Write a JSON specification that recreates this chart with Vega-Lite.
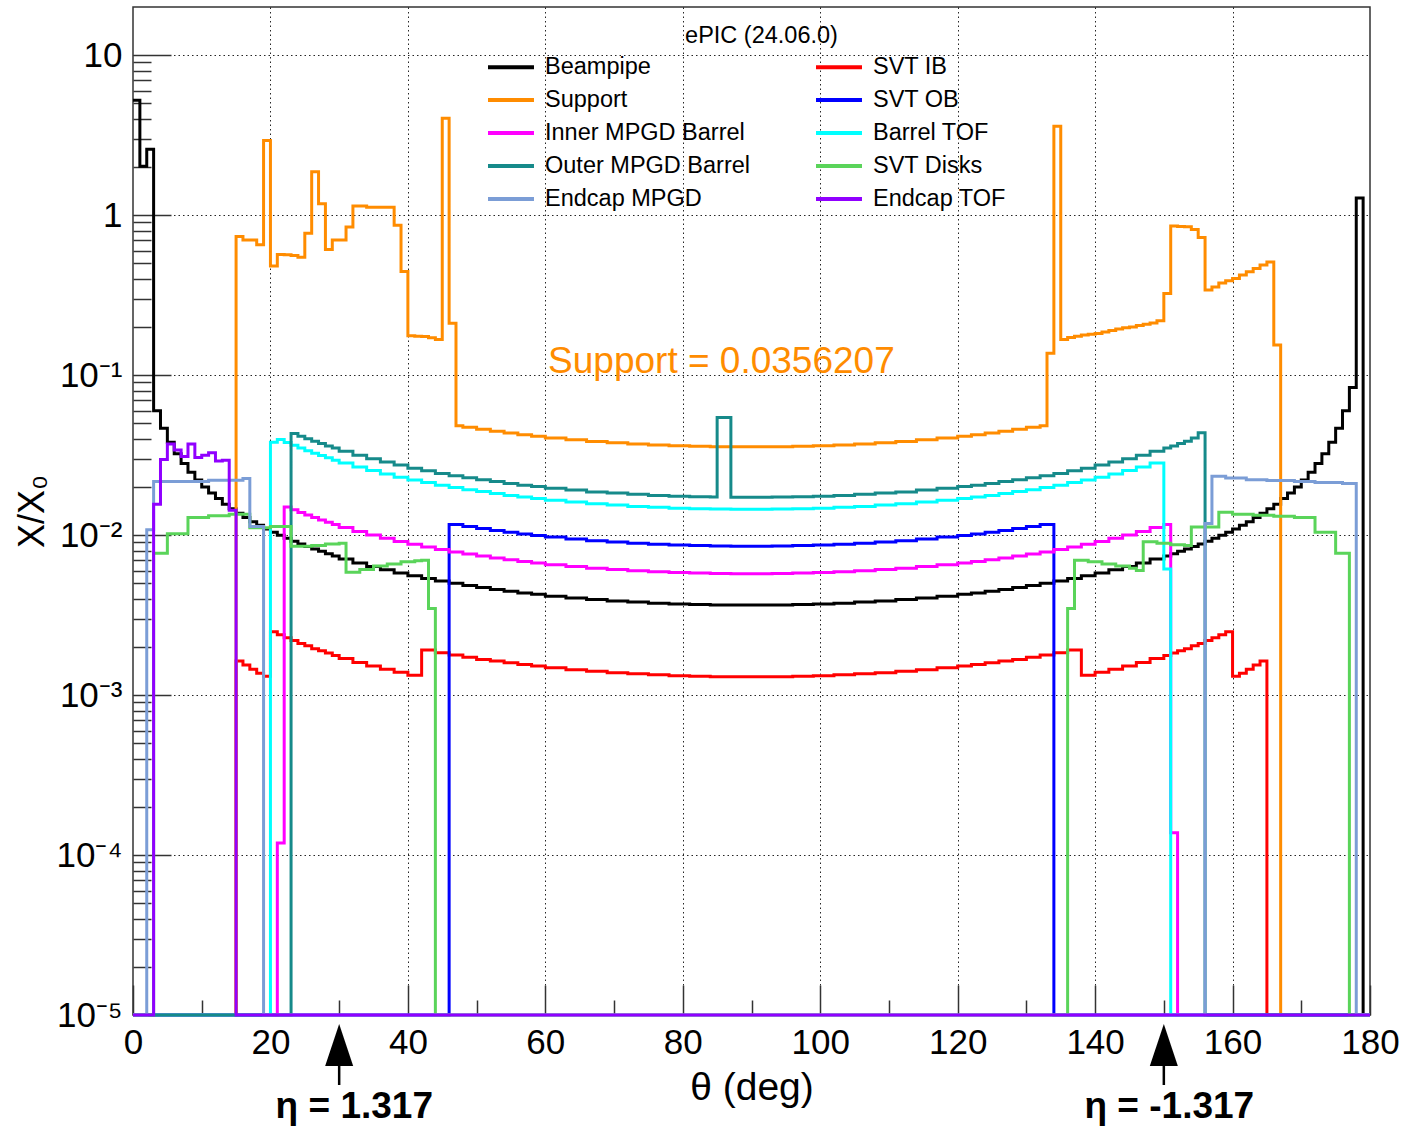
{
"$schema": "https://vega.github.io/schema/vega-lite/v6.json",
"width": 1237, "height": 1008,
"autosize": "none",
"padding": {"left": 133, "top": 7, "right": 39, "bottom": 114},
"background": "white",
"title": {"text": "ePIC (24.06.0)", "anchor": "middle", "fontSize": 23.5, "fontWeight": "normal", "font": "Liberation Sans", "color": "#000", "baseline": "middle", "offset": 0, "dx": 10, "dy": 52},
"config": {
  "view": {"stroke": "#333", "strokeWidth": 1.5},
  "font": "Liberation Sans",
  "axis": {"labelFont": "Liberation Sans", "titleFont": "Liberation Sans", "labelColor": "#000", "titleColor": "#000"},
  "legend": {"labelFont": "Liberation Sans", "titleFont": "Liberation Sans"}
},
"datasets": {
"beampipe": [{"t":0,"v":5.23},{"t":1,"v":2.02},{"t":2,"v":2.58},{"t":3,"v":0.0598},{"t":4,"v":0.0465},{"t":5,"v":0.0381},{"t":6,"v":0.0322},{"t":7,"v":0.028},{"t":8,"v":0.0247},{"t":9,"v":0.0221},{"t":10,"v":0.02},{"t":11,"v":0.0183},{"t":12,"v":0.0169},{"t":13,"v":0.0156},{"t":14,"v":0.0146},{"t":15,"v":0.0137},{"t":16,"v":0.0129},{"t":17,"v":0.0121},{"t":18,"v":0.0115},{"t":19,"v":0.0109},{"t":20,"v":0.0104},{"t":21,"v":0.00996},{"t":22,"v":0.00954},{"t":23,"v":0.00915},{"t":24,"v":0.0088},{"t":25,"v":0.00848},{"t":26,"v":0.00818},{"t":27,"v":0.00791},{"t":28,"v":0.00765},{"t":29,"v":0.00741},{"t":30,"v":0.00709},{"t":32,"v":0.0067},{"t":34,"v":0.00636},{"t":36,"v":0.00607},{"t":38,"v":0.0058},{"t":40,"v":0.00556},{"t":42,"v":0.00535},{"t":44,"v":0.00516},{"t":46,"v":0.00499},{"t":48,"v":0.00484},{"t":50,"v":0.0047},{"t":52,"v":0.00457},{"t":54,"v":0.00446},{"t":56,"v":0.00435},{"t":58,"v":0.00426},{"t":60,"v":0.00415},{"t":63,"v":0.00404},{"t":66,"v":0.00395},{"t":69,"v":0.00387},{"t":72,"v":0.00381},{"t":75,"v":0.00375},{"t":78,"v":0.00371},{"t":81,"v":0.00368},{"t":84,"v":0.00366},{"t":87,"v":0.00365},{"t":90,"v":0.00365},{"t":93,"v":0.00366},{"t":96,"v":0.00368},{"t":99,"v":0.00371},{"t":102,"v":0.00375},{"t":105,"v":0.00381},{"t":108,"v":0.00387},{"t":111,"v":0.00395},{"t":114,"v":0.00404},{"t":117,"v":0.00415},{"t":120,"v":0.00426},{"t":122,"v":0.00435},{"t":124,"v":0.00446},{"t":126,"v":0.00457},{"t":128,"v":0.0047},{"t":130,"v":0.00484},{"t":132,"v":0.00499},{"t":134,"v":0.00516},{"t":136,"v":0.00535},{"t":138,"v":0.00556},{"t":140,"v":0.0058},{"t":142,"v":0.00607},{"t":144,"v":0.00636},{"t":146,"v":0.0067},{"t":148,"v":0.00709},{"t":150,"v":0.00741},{"t":151,"v":0.00765},{"t":152,"v":0.00791},{"t":153,"v":0.00818},{"t":154,"v":0.00848},{"t":155,"v":0.0088},{"t":156,"v":0.00915},{"t":157,"v":0.00954},{"t":158,"v":0.00996},{"t":159,"v":0.0104},{"t":160,"v":0.0109},{"t":161,"v":0.0115},{"t":162,"v":0.0121},{"t":163,"v":0.0129},{"t":164,"v":0.0137},{"t":165,"v":0.0146},{"t":166,"v":0.0156},{"t":167,"v":0.0169},{"t":168,"v":0.0183},{"t":169,"v":0.02},{"t":170,"v":0.0221},{"t":171,"v":0.0247},{"t":172,"v":0.028},{"t":173,"v":0.0322},{"t":174,"v":0.0381},{"t":175,"v":0.0465},{"t":176,"v":0.0598},{"t":177,"v":0.0837},{"t":178,"v":1.28},{"t":179,"v":0.00001},{"t":180,"v":0.00001}],
"svtib": [{"t":0,"v":0.00001},{"t":15,"v":0.00163},{"t":16,"v":0.00154},{"t":17,"v":0.00145},{"t":18,"v":0.00137},{"t":19,"v":0.00131},{"t":20,"v":0.00249},{"t":21,"v":0.00238},{"t":22,"v":0.00228},{"t":23,"v":0.00219},{"t":24,"v":0.0021},{"t":25,"v":0.00203},{"t":26,"v":0.00195},{"t":27,"v":0.00189},{"t":28,"v":0.00183},{"t":29,"v":0.00177},{"t":30,"v":0.00169},{"t":32,"v":0.0016},{"t":34,"v":0.00152},{"t":36,"v":0.00145},{"t":38,"v":0.00139},{"t":40,"v":0.00133},{"t":42,"v":0.00191},{"t":44,"v":0.00184},{"t":46,"v":0.00178},{"t":48,"v":0.00172},{"t":50,"v":0.00167},{"t":52,"v":0.00163},{"t":54,"v":0.00159},{"t":56,"v":0.00155},{"t":58,"v":0.00152},{"t":60,"v":0.00148},{"t":63,"v":0.00144},{"t":66,"v":0.00141},{"t":69,"v":0.00138},{"t":72,"v":0.00136},{"t":75,"v":0.00134},{"t":78,"v":0.00132},{"t":81,"v":0.00131},{"t":84,"v":0.0013},{"t":87,"v":0.0013},{"t":90,"v":0.0013},{"t":93,"v":0.0013},{"t":96,"v":0.00131},{"t":99,"v":0.00132},{"t":102,"v":0.00134},{"t":105,"v":0.00136},{"t":108,"v":0.00138},{"t":111,"v":0.00141},{"t":114,"v":0.00144},{"t":117,"v":0.00148},{"t":120,"v":0.00152},{"t":122,"v":0.00155},{"t":124,"v":0.00159},{"t":126,"v":0.00163},{"t":128,"v":0.00167},{"t":130,"v":0.00172},{"t":132,"v":0.00178},{"t":134,"v":0.00184},{"t":136,"v":0.00191},{"t":138,"v":0.00133},{"t":140,"v":0.00139},{"t":142,"v":0.00145},{"t":144,"v":0.00152},{"t":146,"v":0.0016},{"t":148,"v":0.00169},{"t":150,"v":0.00177},{"t":151,"v":0.00183},{"t":152,"v":0.00189},{"t":153,"v":0.00195},{"t":154,"v":0.00203},{"t":155,"v":0.0021},{"t":156,"v":0.00219},{"t":157,"v":0.00228},{"t":158,"v":0.00238},{"t":159,"v":0.00249},{"t":160,"v":0.00131},{"t":161,"v":0.00137},{"t":162,"v":0.00145},{"t":163,"v":0.00154},{"t":164,"v":0.00163},{"t":165,"v":0.00001},{"t":180,"v":0.00001}],
"support": [{"t":0,"v":0.00001},{"t":15,"v":0.735},{"t":16,"v":0.698},{"t":18,"v":0.653},{"t":19,"v":2.93},{"t":20,"v":0.48},{"t":21,"v":0.568},{"t":22,"v":0.565},{"t":23,"v":0.56},{"t":24,"v":0.546},{"t":25,"v":0.77},{"t":26,"v":1.87},{"t":27,"v":1.18},{"t":28,"v":0.61},{"t":29,"v":0.698},{"t":31,"v":0.844},{"t":32,"v":1.14},{"t":34,"v":1.12},{"t":38,"v":0.866},{"t":39,"v":0.444},{"t":40,"v":0.176},{"t":41,"v":0.175},{"t":42,"v":0.174},{"t":43,"v":0.171},{"t":44,"v":0.167},{"t":45,"v":4.04},{"t":46,"v":0.211},{"t":47,"v":0.0483},{"t":48,"v":0.0472},{"t":50,"v":0.0458},{"t":52,"v":0.0446},{"t":54,"v":0.0435},{"t":56,"v":0.0424},{"t":58,"v":0.0415},{"t":60,"v":0.0405},{"t":63,"v":0.0394},{"t":66,"v":0.0385},{"t":69,"v":0.0378},{"t":72,"v":0.0371},{"t":75,"v":0.0366},{"t":78,"v":0.0362},{"t":81,"v":0.0359},{"t":84,"v":0.0357},{"t":87,"v":0.0356},{"t":90,"v":0.0356},{"t":93,"v":0.0357},{"t":96,"v":0.0359},{"t":99,"v":0.0362},{"t":102,"v":0.0366},{"t":105,"v":0.0371},{"t":108,"v":0.0378},{"t":111,"v":0.0385},{"t":114,"v":0.0394},{"t":117,"v":0.0405},{"t":120,"v":0.0415},{"t":122,"v":0.0424},{"t":124,"v":0.0435},{"t":126,"v":0.0446},{"t":128,"v":0.0458},{"t":130,"v":0.0472},{"t":132,"v":0.0483},{"t":133,"v":0.137},{"t":134,"v":3.6},{"t":135,"v":0.167},{"t":136,"v":0.172},{"t":137,"v":0.175},{"t":138,"v":0.178},{"t":139,"v":0.18},{"t":140,"v":0.182},{"t":141,"v":0.186},{"t":142,"v":0.19},{"t":143,"v":0.194},{"t":144,"v":0.198},{"t":145,"v":0.2},{"t":146,"v":0.204},{"t":147,"v":0.208},{"t":148,"v":0.212},{"t":149,"v":0.219},{"t":150,"v":0.324},{"t":151,"v":0.854},{"t":152,"v":0.85},{"t":153,"v":0.845},{"t":154,"v":0.814},{"t":155,"v":0.725},{"t":156,"v":0.34},{"t":157,"v":0.356},{"t":158,"v":0.377},{"t":159,"v":0.389},{"t":160,"v":0.402},{"t":161,"v":0.422},{"t":162,"v":0.442},{"t":163,"v":0.464},{"t":164,"v":0.487},{"t":165,"v":0.51},{"t":166,"v":0.154},{"t":167,"v":0.00001},{"t":180,"v":0.00001}],
"svtob": [{"t":0,"v":0.00001},{"t":46,"v":0.01166},{"t":48,"v":0.0113},{"t":50,"v":0.01098},{"t":52,"v":0.01068},{"t":54,"v":0.01042},{"t":56,"v":0.01017},{"t":58,"v":0.00995},{"t":60,"v":0.00971},{"t":63,"v":0.00945},{"t":66,"v":0.00923},{"t":69,"v":0.00905},{"t":72,"v":0.0089},{"t":75,"v":0.00877},{"t":78,"v":0.00868},{"t":81,"v":0.00861},{"t":84,"v":0.00856},{"t":87,"v":0.00853},{"t":90,"v":0.00853},{"t":93,"v":0.00856},{"t":96,"v":0.00861},{"t":99,"v":0.00868},{"t":102,"v":0.00877},{"t":105,"v":0.0089},{"t":108,"v":0.00905},{"t":111,"v":0.00923},{"t":114,"v":0.00945},{"t":117,"v":0.00971},{"t":120,"v":0.00995},{"t":122,"v":0.01017},{"t":124,"v":0.01042},{"t":126,"v":0.01068},{"t":128,"v":0.01098},{"t":130,"v":0.0113},{"t":132,"v":0.01166},{"t":134,"v":0.00001},{"t":180,"v":0.00001}],
"innermpgd": [{"t":0,"v":0.00001},{"t":21,"v":0.000119},{"t":22,"v":0.015},{"t":23,"v":0.0144},{"t":24,"v":0.01384},{"t":25,"v":0.01333},{"t":26,"v":0.01286},{"t":27,"v":0.01243},{"t":28,"v":0.01203},{"t":29,"v":0.01166},{"t":30,"v":0.01115},{"t":32,"v":0.01054},{"t":34,"v":0.01},{"t":36,"v":0.00954},{"t":38,"v":0.00912},{"t":40,"v":0.00875},{"t":42,"v":0.00841},{"t":44,"v":0.00812},{"t":46,"v":0.00785},{"t":48,"v":0.00761},{"t":50,"v":0.00739},{"t":52,"v":0.00719},{"t":54,"v":0.00701},{"t":56,"v":0.00684},{"t":58,"v":0.0067},{"t":60,"v":0.00653},{"t":63,"v":0.00636},{"t":66,"v":0.00621},{"t":69,"v":0.00609},{"t":72,"v":0.00599},{"t":75,"v":0.0059},{"t":78,"v":0.00584},{"t":81,"v":0.00579},{"t":84,"v":0.00576},{"t":87,"v":0.00574},{"t":90,"v":0.00574},{"t":93,"v":0.00576},{"t":96,"v":0.00579},{"t":99,"v":0.00584},{"t":102,"v":0.0059},{"t":105,"v":0.00599},{"t":108,"v":0.00609},{"t":111,"v":0.00621},{"t":114,"v":0.00636},{"t":117,"v":0.00653},{"t":120,"v":0.0067},{"t":122,"v":0.00684},{"t":124,"v":0.00701},{"t":126,"v":0.00719},{"t":128,"v":0.00739},{"t":130,"v":0.00761},{"t":132,"v":0.00785},{"t":134,"v":0.00812},{"t":136,"v":0.00841},{"t":138,"v":0.00875},{"t":140,"v":0.00912},{"t":142,"v":0.00954},{"t":144,"v":0.01},{"t":146,"v":0.01054},{"t":148,"v":0.01115},{"t":150,"v":0.01166},{"t":151,"v":0.000138},{"t":152,"v":0.00001},{"t":180,"v":0.00001}],
"barreltof": [{"t":0,"v":0.00001},{"t":20,"v":0.038},{"t":21,"v":0.0396},{"t":22,"v":0.0379},{"t":23,"v":0.0364},{"t":24,"v":0.035},{"t":25,"v":0.0337},{"t":26,"v":0.0325},{"t":27,"v":0.0314},{"t":28,"v":0.0304},{"t":29,"v":0.0294},{"t":30,"v":0.0282},{"t":32,"v":0.0266},{"t":34,"v":0.0253},{"t":36,"v":0.0241},{"t":38,"v":0.023},{"t":40,"v":0.0221},{"t":42,"v":0.0213},{"t":44,"v":0.0205},{"t":46,"v":0.0198},{"t":48,"v":0.0192},{"t":50,"v":0.0187},{"t":52,"v":0.0182},{"t":54,"v":0.0177},{"t":56,"v":0.0173},{"t":58,"v":0.0169},{"t":60,"v":0.0165},{"t":63,"v":0.0161},{"t":66,"v":0.0157},{"t":69,"v":0.0154},{"t":72,"v":0.0151},{"t":75,"v":0.0149},{"t":78,"v":0.0147},{"t":81,"v":0.01463},{"t":84,"v":0.01454},{"t":87,"v":0.0145},{"t":90,"v":0.0145},{"t":93,"v":0.01454},{"t":96,"v":0.01463},{"t":99,"v":0.0147},{"t":102,"v":0.0149},{"t":105,"v":0.0151},{"t":108,"v":0.0154},{"t":111,"v":0.0157},{"t":114,"v":0.0161},{"t":117,"v":0.0165},{"t":120,"v":0.0169},{"t":122,"v":0.0173},{"t":124,"v":0.0177},{"t":126,"v":0.0182},{"t":128,"v":0.0187},{"t":130,"v":0.0192},{"t":132,"v":0.0198},{"t":134,"v":0.0205},{"t":136,"v":0.0213},{"t":138,"v":0.0221},{"t":140,"v":0.023},{"t":142,"v":0.0241},{"t":144,"v":0.0253},{"t":146,"v":0.0266},{"t":148,"v":0.0282},{"t":150,"v":0.00613},{"t":151,"v":0.00001},{"t":180,"v":0.00001}],
"outermpgd": [{"t":0,"v":0.00001},{"t":23,"v":0.0432},{"t":24,"v":0.0415},{"t":25,"v":0.04},{"t":26,"v":0.0386},{"t":27,"v":0.0373},{"t":28,"v":0.0361},{"t":29,"v":0.035},{"t":30,"v":0.0334},{"t":32,"v":0.0316},{"t":34,"v":0.03},{"t":36,"v":0.0286},{"t":38,"v":0.0274},{"t":40,"v":0.0262},{"t":42,"v":0.0252},{"t":44,"v":0.0243},{"t":46,"v":0.0235},{"t":48,"v":0.0228},{"t":50,"v":0.0222},{"t":52,"v":0.0216},{"t":54,"v":0.021},{"t":56,"v":0.0205},{"t":58,"v":0.0201},{"t":60,"v":0.0196},{"t":63,"v":0.0191},{"t":66,"v":0.0186},{"t":69,"v":0.0183},{"t":72,"v":0.018},{"t":75,"v":0.0177},{"t":78,"v":0.0175},{"t":81,"v":0.01737},{"t":84,"v":0.01727},{"t":85,"v":0.0543},{"t":87,"v":0.01722},{"t":90,"v":0.01722},{"t":93,"v":0.01727},{"t":96,"v":0.01737},{"t":99,"v":0.0175},{"t":102,"v":0.0177},{"t":105,"v":0.018},{"t":108,"v":0.0183},{"t":111,"v":0.0186},{"t":114,"v":0.0191},{"t":117,"v":0.0196},{"t":120,"v":0.0201},{"t":122,"v":0.0205},{"t":124,"v":0.021},{"t":126,"v":0.0216},{"t":128,"v":0.0222},{"t":130,"v":0.0228},{"t":132,"v":0.0235},{"t":134,"v":0.0243},{"t":136,"v":0.0252},{"t":138,"v":0.0262},{"t":140,"v":0.0274},{"t":142,"v":0.0286},{"t":144,"v":0.03},{"t":146,"v":0.0316},{"t":148,"v":0.0334},{"t":150,"v":0.035},{"t":151,"v":0.0361},{"t":152,"v":0.0373},{"t":153,"v":0.0386},{"t":154,"v":0.0405},{"t":155,"v":0.0436},{"t":156,"v":0.00001},{"t":180,"v":0.00001}],
"svtdisks": [{"t":0,"v":0.00001},{"t":3,"v":0.0077},{"t":5,"v":0.0102},{"t":8,"v":0.0129},{"t":11,"v":0.0132},{"t":14,"v":0.0135},{"t":17,"v":0.0111},{"t":20,"v":0.0113},{"t":23,"v":0.0085},{"t":26,"v":0.0086},{"t":28,"v":0.0088},{"t":30,"v":0.0089},{"t":31,"v":0.00585},{"t":33,"v":0.0061},{"t":35,"v":0.0064},{"t":37,"v":0.0066},{"t":39,"v":0.0068},{"t":41,"v":0.0069},{"t":42,"v":0.00696},{"t":43,"v":0.00347},{"t":44,"v":0.00001},{"t":136,"v":0.00347},{"t":137,"v":0.00696},{"t":139,"v":0.0068},{"t":141,"v":0.0066},{"t":143,"v":0.0064},{"t":145,"v":0.0062},{"t":146,"v":0.006},{"t":147,"v":0.0091},{"t":149,"v":0.0089},{"t":151,"v":0.0087},{"t":153,"v":0.0086},{"t":154,"v":0.01125},{"t":158,"v":0.0139},{"t":160,"v":0.0135},{"t":163,"v":0.0133},{"t":166,"v":0.0131},{"t":169,"v":0.0129},{"t":172,"v":0.0104},{"t":175,"v":0.0077},{"t":177,"v":0.00001},{"t":180,"v":0.00001}],
"endcapmpgd": [{"t":0,"v":0.00001},{"t":2,"v":0.0108},{"t":3,"v":0.0216},{"t":11,"v":0.022},{"t":16,"v":0.0226},{"t":17,"v":0.0113},{"t":19,"v":0.00001},{"t":156,"v":0.0118},{"t":157,"v":0.0233},{"t":159,"v":0.0227},{"t":162,"v":0.0222},{"t":165,"v":0.0219},{"t":169,"v":0.0216},{"t":172,"v":0.0213},{"t":176,"v":0.021},{"t":178,"v":0.00001},{"t":180,"v":0.00001}],
"endcaptof": [{"t":0,"v":0.00001},{"t":3,"v":0.0156},{"t":4,"v":0.0297},{"t":5,"v":0.0371},{"t":6,"v":0.034},{"t":7,"v":0.031},{"t":8,"v":0.0371},{"t":9,"v":0.0306},{"t":10,"v":0.0316},{"t":11,"v":0.0327},{"t":12,"v":0.029},{"t":13,"v":0.0294},{"t":14,"v":0.0143},{"t":15,"v":0.00001},{"t":180,"v":0.00001}],
"arrows": [{"t":30,"tl":32.2,"eta":"η = 1.317"},{"t":150,"tl":150.8,"eta":"η = -1.317"}],
"note": [{"label":"Support = 0.0356207"}]
},
"layer": [
{
  "encoding": {
    "x": {"field": "t", "type": "quantitative",
      "scale": {"domain": [0, 180], "nice": false, "zero": false},
      "axis": {
        "title": "θ (deg)",
        "values": [0,5,10,15,20,25,30,35,40,45,50,55,60,65,70,75,80,85,90,95,100,105,110,115,120,125,130,135,140,145,150,155,160,165,170,175,180],
        "labelExpr": "datum.value % 20 === 0 ? datum.label : ''",
        "tickSize": {"condition": {"test": "datum.value % 20 === 0", "value": -30}, "value": -15},
        "tickColor": "#333", "tickWidth": 1.5,
        "labelPadding": 40, "labelFontSize": 35, "labelFlush": false, "labelOverlap": false, "labelBound": false,
        "domain": false,
        "grid": true, "gridColor": "#000", "gridDash": [1.5, 3], "gridWidth": 1,
        "gridOpacity": {"condition": {"test": "datum.value % 20 === 0 && datum.value > 0 && datum.value < 180", "value": 0.85}, "value": 0},
        "titleFontSize": 39, "titleFontWeight": "normal", "titlePadding": -7
      }},
    "y": {"field": "v", "type": "quantitative",
      "scale": {"type": "log", "domain": [0.00001, 20], "nice": false},
      "axis": {
        "title": "X/X₀",
        "values": [0.00001,0.00002,0.00003,0.00004,0.00005,0.00006,0.00007,0.00008,0.00009,0.0001,0.0002,0.0003,0.0004,0.0005,0.0006,0.0007,0.0008,0.0009,0.001,0.002,0.003,0.004,0.005,0.006,0.007,0.008,0.009,0.01,0.02,0.03,0.04,0.05,0.06,0.07,0.08,0.09,0.1,0.2,0.3,0.4,0.5,0.6,0.7,0.8,0.9,1,2,3,4,5,6,7,8,9,10],
        "labelExpr": "abs(log(datum.value)/LN10 - round(log(datum.value)/LN10)) > 0.01 ? '' : (datum.value > 5 ? '10' : (datum.value > 0.5 ? '1' : '10' + ['⁻¹','⁻²','⁻³','⁻⁴','⁻⁵'][-round(log(datum.value)/LN10) - 1]))",
        "tickSize": {"condition": {"test": "abs(log(datum.value)/LN10 - round(log(datum.value)/LN10)) < 0.01", "value": -38}, "value": -18},
        "tickColor": "#333", "tickWidth": 1.5,
        "labelPadding": 49, "labelFontSize": 35, "labelFlush": false, "labelOverlap": false, "labelBound": false,
        "domain": false,
        "grid": true, "gridColor": "#000", "gridDash": [1.5, 3], "gridWidth": 1,
        "gridOpacity": {"condition": {"test": "abs(log(datum.value)/LN10 - round(log(datum.value)/LN10)) < 0.01 && datum.value > 0.00002", "value": 0.85}, "value": 0},
        "titleFontSize": 36, "titleFontWeight": "normal", "titlePadding": 5
      }}
  },
  "layer": [
    {"data": {"name": "beampipe"}, "mark": {"type": "line", "interpolate": "step-after", "strokeWidth": 3, "clip": false},
     "encoding": {"color": {"datum": "Beampipe", "type": "nominal",
       "scale": {"domain": ["Beampipe","Support","Inner MPGD Barrel","Outer MPGD Barrel","Endcap MPGD","SVT IB","SVT OB","Barrel TOF","SVT Disks","Endcap TOF"],
                 "range": ["#000000","#ff8c00","#ff00ff","#168a8a","#7b9dd6","#ff0000","#0000ff","#00ffff","#5ad45a","#9000ff"]},
       "legend": {"orient": "none", "legendX": 357, "legendY": 39, "columns": 2, "columnPadding": 57, "rowPadding": 0,
         "symbolType": "M-1.21,0L1.21,0", "symbolSize": 1444, "symbolStrokeWidth": 4, "labelFontSize": 23.5, "labelOffset": 13, "labelLimit": 400,
         "labelColor": "#000", "title": null, "padding": 0}}}},
    {"data": {"name": "svtib"}, "mark": {"type": "line", "interpolate": "step-after", "strokeWidth": 3, "clip": false}, "encoding": {"color": {"datum": "SVT IB", "type": "nominal"}}},
    {"data": {"name": "support"}, "mark": {"type": "line", "interpolate": "step-after", "strokeWidth": 3, "clip": false}, "encoding": {"color": {"datum": "Support", "type": "nominal"}}},
    {"data": {"name": "svtob"}, "mark": {"type": "line", "interpolate": "step-after", "strokeWidth": 3, "clip": false}, "encoding": {"color": {"datum": "SVT OB", "type": "nominal"}}},
    {"data": {"name": "innermpgd"}, "mark": {"type": "line", "interpolate": "step-after", "strokeWidth": 3, "clip": false}, "encoding": {"color": {"datum": "Inner MPGD Barrel", "type": "nominal"}}},
    {"data": {"name": "barreltof"}, "mark": {"type": "line", "interpolate": "step-after", "strokeWidth": 3, "clip": false}, "encoding": {"color": {"datum": "Barrel TOF", "type": "nominal"}}},
    {"data": {"name": "outermpgd"}, "mark": {"type": "line", "interpolate": "step-after", "strokeWidth": 3, "clip": false}, "encoding": {"color": {"datum": "Outer MPGD Barrel", "type": "nominal"}}},
    {"data": {"name": "svtdisks"}, "mark": {"type": "line", "interpolate": "step-after", "strokeWidth": 3, "clip": false}, "encoding": {"color": {"datum": "SVT Disks", "type": "nominal"}}},
    {"data": {"name": "endcapmpgd"}, "mark": {"type": "line", "interpolate": "step-after", "strokeWidth": 3, "clip": false}, "encoding": {"color": {"datum": "Endcap MPGD", "type": "nominal"}}},
    {"data": {"name": "endcaptof"}, "mark": {"type": "line", "interpolate": "step-after", "strokeWidth": 3, "clip": false}, "encoding": {"color": {"datum": "Endcap TOF", "type": "nominal"}}}
  ]
},
{"data": {"name": "note"},
 "mark": {"type": "text", "align": "left", "baseline": "middle", "fontSize": 37, "color": "#ff8c00", "font": "Liberation Sans", "clip": false},
 "encoding": {"x": {"datum": 60.4}, "y": {"datum": 0.12}, "text": {"field": "label"}}},
{"data": {"name": "arrows"},
 "mark": {"type": "rule", "color": "#000", "strokeWidth": 2.5, "clip": false},
 "encoding": {"x": {"field": "t", "type": "quantitative"}, "y": {"datum": 0.0000048}, "y2": {"datum": 0.00000365}}},
{"data": {"name": "arrows"},
 "mark": {"type": "point", "shape": "M0,-1L0.667,1L-0.667,1Z", "filled": true, "color": "#000", "opacity": 1, "size": 1764, "strokeWidth": 0, "clip": false},
 "encoding": {"x": {"field": "t", "type": "quantitative"}, "y": {"datum": 0.00000649}}},
{"data": {"name": "arrows"},
 "mark": {"type": "text", "align": "center", "baseline": "middle", "fontSize": 37, "fontWeight": "bold", "color": "#000", "font": "Liberation Sans", "clip": false},
 "encoding": {"x": {"field": "tl", "type": "quantitative"}, "y": {"datum": 0.00000266}, "text": {"field": "eta"}}}
]
}
